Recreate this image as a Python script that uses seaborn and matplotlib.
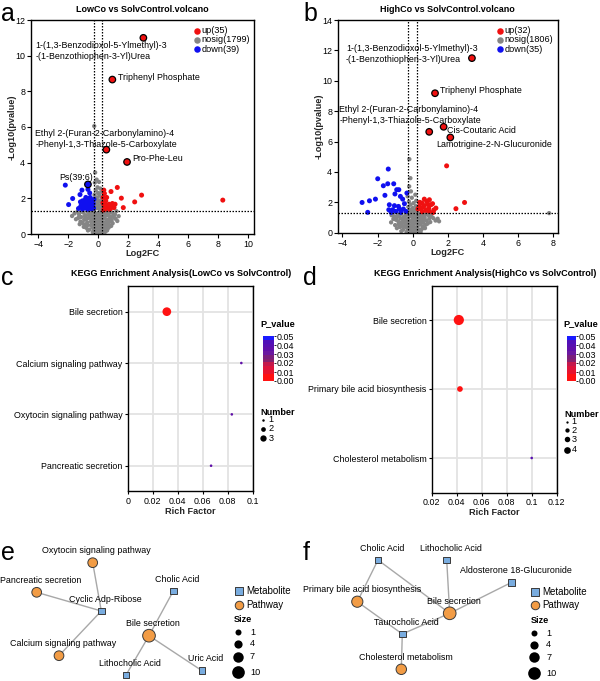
import numpy as np
import pandas as pd
import matplotlib
matplotlib.use("Agg")
import matplotlib.pyplot as plt
import matplotlib.colors as mcolors
from matplotlib.cm import ScalarMappable
import seaborn as sns

sns.set_style("ticks")
plt.rcParams['font.family'] = ['Liberation Sans', 'DejaVu Sans']
plt.rcParams['font.size'] = 6.4
plt.rcParams['text.color'] = 'black'
plt.rcParams['axes.edgecolor'] = 'black'
plt.rcParams['axes.linewidth'] = 1.0
plt.rcParams['xtick.color'] = 'black'
plt.rcParams['ytick.color'] = 'black'
plt.rcParams['xtick.major.size'] = 3
plt.rcParams['ytick.major.size'] = 3
plt.rcParams['xtick.major.width'] = 0.8
plt.rcParams['ytick.major.width'] = 0.8
plt.rcParams['xtick.major.pad'] = 1.2
plt.rcParams['ytick.major.pad'] = 1.2

# ---------------- volcano data ----------------
vol_groups = ["up", "nosig", "down"]
a_counts = [35, 1799, 39]
b_counts = [32, 1806, 35]

a_up_x = [1.26, 0.84, 0.36, 0.40, 2.88, 1.53, 2.42, 1.66, 8.30, 0.49, 0.71, 0.93, 1.11,
          0.38, 0.60, 0.82, 0.32, 0.55, 1.04, 0.44, 0.30, 0.65, 0.50, 0.35, 0.75, 1.00]
a_up_y = [2.61, 2.38, 2.46, 2.27, 2.18, 2.01, 1.80, 1.48, 1.90, 1.86, 1.67, 1.71, 1.67,
          1.58, 1.48, 1.45, 2.05, 2.05, 1.48, 1.39, 1.75, 1.55, 1.62, 1.35, 1.38, 1.62]
a_down_x = [-2.21, -1.99, -1.72, -1.23, -1.10, -0.70, -1.33, -1.06, -0.95, -0.79, -0.62,
            -0.50, -0.66, -0.40, -0.88, -1.17, -0.55, -0.84, -0.44, -0.33, -1.06, -0.73,
            -0.60, -0.90, -0.35, -1.00, -0.48, -0.75, -1.20, -0.30, -0.58]
a_down_y = [2.74, 1.65, 1.99, 2.21, 2.46, 2.50, 1.43, 1.86, 1.67, 1.76, 1.90,
            1.67, 1.48, 1.58, 1.48, 1.58, 2.05, 2.05, 1.86, 1.45, 1.39, 1.39,
            1.75, 1.90, 1.70, 1.55, 1.42, 1.62, 1.80, 1.95, 2.30]
a_grey_x = [-0.28, -0.22, -0.12, 0.04, -0.24, -0.06, 0.12, -0.18, 0.20, -0.02, -0.26, 0.08,
            -0.10, 0.22, -0.20, 0.02, 0.15, -0.08, -0.24, 0.24, 0.06, -0.14, 0.18, -0.02,
            -0.22, 0.10, -0.30, 0.26, -1.76, -1.50, -1.30, -1.15, -1.00, -0.95, -0.85, -0.75,
            -0.70, -0.65, -0.55, -0.50, -0.45, -0.40, -0.35, -0.30, -0.28, -0.25, -0.20, -0.15,
            -0.12, -0.10, -0.05, -0.02, 0.00, 0.03, 0.06, 0.10, 0.12, 0.15, 0.20, 0.22,
            0.25, 0.30, 0.35, 0.38, 0.42, 0.48, 0.52, 0.58, 0.62, 0.70, 0.75, 0.82,
            0.90, 0.95, 1.04, 1.10, 1.26, 1.35, -1.20, -0.90, -0.60, -0.38, -0.18, 0.05,
            0.28, 0.45, -0.65, -0.82, 0.68, 0.85, -1.05, -0.48, 0.55, -1.40, 1.20, -0.32,
            0.18, -0.08,
            -1.60, -1.35, -1.25, -1.10, -0.98, -0.92, -0.78, -0.72, -0.62, -0.52, -0.42, -0.36,
            -0.26, -0.22, -0.16, -0.06, 0.00, 0.08, 0.14, 0.18, 0.26, 0.32, 0.36, 0.44,
            0.50, 0.56, 0.64, 0.72, 0.78, 0.88, 1.00, 1.15, -0.45, -0.30, 0.40, -0.12,
            0.06, -0.50, 0.58, -0.70]
a_grey_y = [6.05, 3.45, 3.05, 2.92, 2.88, 2.62, 2.55, 2.45, 2.35, 2.30, 2.20, 2.15,
            2.05, 2.00, 1.92, 1.88, 1.80, 1.75, 1.68, 1.65, 1.60, 1.55, 1.50, 1.45,
            1.42, 1.38, 1.33, 1.35, 1.01, 0.83, 1.10, 0.95, 1.20, 0.80, 1.05, 0.65,
            1.25, 0.90, 1.12, 0.70, 0.45, 1.00, 0.82, 1.22, 0.55, 0.30, 0.95, 0.70,
            1.15, 0.40, 0.85, 0.15, 1.05, 0.60, 0.30, 0.90, 1.20, 0.50, 0.75, 0.20,
            1.00, 0.45, 1.18, 0.65, 0.88, 0.30, 1.05, 0.55, 0.80, 1.15, 0.70, 0.95,
            1.20, 0.60, 0.92, 1.10, 0.73, 1.00, 0.70, 0.50, 0.25, 0.10, 0.05, 0.08,
            0.10, 0.12, 1.20, 0.35, 0.35, 0.45, 0.62, 1.25, 1.25, 1.25, 1.28, 0.20,
            0.35, 0.25,
            1.15, 0.90, 0.55, 1.25, 0.40, 1.00, 0.85, 0.50, 1.05, 0.95, 0.65, 0.35,
            0.80, 0.48, 0.20, 0.55, 0.35, 0.75, 0.15, 1.05, 0.60, 0.88, 0.25, 1.10,
            0.48, 0.72, 1.05, 0.50, 0.90, 0.75, 1.05, 0.85, 0.85, 1.05, 0.40, 0.95,
            1.00, 0.50, 0.20, 0.20]
a_hit_names = ["1-(1,3-Benzodioxol-5-Ylmethyl)-3\n-(1-Benzothiophen-3-Yl)Urea",
               "Triphenyl Phosphate",
               "Ethyl 2-(Furan-2-Carbonylamino)-4\n-Phenyl-1,3-Thiazole-5-Carboxylate",
               "Pro-Phe-Leu", "Ps(39:6)"]
a_hit_x = [3.00, 0.93, 0.53, 1.91, -0.70]
a_hit_y = [11.00, 8.66, 4.73, 4.04, 2.78]
a_hit_group = ["up", "up", "up", "up", "down"]

b_up_x = [1.93, 2.95, 2.46, 0.66, 0.80, 0.95, 0.53, 0.37, 0.66, 0.91, 1.13, 1.32, 0.95,
          0.75, 0.47, 0.30, 1.04, 0.60, 1.17, 0.55, 0.85, 0.40, 1.20]
b_up_y = [4.40, 1.99, 1.58, 2.21, 2.06, 2.17, 1.95, 1.73, 1.78, 1.62, 1.91, 1.62, 1.40,
          1.47, 1.56, 1.56, 1.84, 1.69, 1.34, 1.38, 1.90, 2.00, 1.50]
b_down_x = [-1.39, -1.99, -1.67, -1.42, -1.08, -0.91, -0.79, -0.33, -1.58, -1.01, -0.70,
            -0.57, -2.12, -2.46, -2.88, -1.33, -1.04, -0.81, -0.47, -1.36, -0.96, -0.67,
            -1.14, -2.56, -0.53, -0.38, -0.76, -1.23]
b_down_y = [4.19, 3.55, 3.09, 3.22, 3.22, 2.83, 2.83, 2.61, 2.46, 2.55, 2.39,
            2.21, 2.21, 2.10, 1.99, 1.84, 1.78, 1.73, 1.91, 1.51, 1.40, 1.34,
            1.51, 1.34, 1.56, 1.40, 1.56, 1.34]
b_grey_x = [-0.19, -0.13, -0.20, -0.10, -0.29, 0.15, -0.05, 0.20, -0.22, 0.05, -0.12, 0.18,
            -0.25, 0.00, 0.22, -0.15, 0.10, -0.30, -0.05, 0.25, 7.76, -1.23, -1.04, -0.95,
            -0.85, -0.80, -0.70, -0.65, -0.60, -0.50, -0.45, -0.40, -0.35, -0.30, -0.25, -0.20,
            -0.15, -0.10, -0.05, 0.00, 0.02, 0.05, 0.08, 0.12, 0.15, 0.20, 0.25, 0.28,
            0.32, 0.38, 0.42, 0.48, 0.50, 0.55, 0.60, 0.68, 0.75, 0.80, 0.90, 1.00,
            1.17, 1.42, 1.10, -1.10, -0.90, -0.55, -0.35, -0.12, 0.10, 0.32, 0.60, -0.72,
            0.85, -1.15, -0.02, 0.40, -0.38, 0.22,
            -1.20, -1.00, -0.92, -0.82, -0.75, -0.60, -0.55, -0.48, -0.42, -0.32, -0.28, -0.22,
            -0.18, -0.08, -0.02, 0.04, 0.10, 0.14, 0.18, 0.24, 0.30, 0.36, 0.44, 0.52,
            0.56, 0.64, 0.70, 0.72, 0.85, 0.95, 1.05, 1.30, -0.65, 0.45, -0.40, 0.05,
            1.50, 0.35, -0.70, -0.15]
b_grey_y = [4.84, 3.59, 3.05, 2.72, 2.39, 2.50, 2.30, 2.10, 2.05, 1.95, 1.85, 1.75,
            1.70, 1.62, 1.55, 1.50, 1.45, 1.40, 1.38, 1.34, 1.29, 0.68, 1.07, 0.85,
            1.20, 0.55, 0.95, 1.25, 0.70, 1.05, 0.40, 0.85, 1.20, 0.60, 0.95, 0.25,
            0.75, 1.10, 0.45, 0.90, 0.10, 1.22, 0.60, 0.30, 0.95, 0.70, 1.15, 0.40,
            0.85, 1.05, 0.55, 0.20, 0.90, 1.20, 0.65, 1.00, 0.53, 0.80, 1.15, 0.70,
            0.96, 0.92, 1.25, 0.90, 0.30, 0.20, 0.05, 0.08, 0.05, 0.12, 0.30, 0.38,
            1.28, 1.25, 0.65, 1.25, 0.60, 0.15,
            1.15, 0.50, 1.00, 0.75, 1.10, 0.45, 0.90, 0.65, 1.10, 0.30, 0.80, 0.55,
            1.20, 0.25, 0.80, 0.45, 1.05, 0.70, 0.35, 0.90, 0.60, 0.20, 0.75, 1.05,
            0.40, 0.85, 0.30, 1.20, 0.60, 0.95, 1.10, 0.80, 0.10, 0.05, 0.45, 0.20,
            0.75, 1.15, 0.65, 0.45]
b_hit_names = ["1-(1,3-Benzodioxol-5-Ylmethyl)-3\n-(1-Benzothiophen-3-Yl)Urea",
               "Triphenyl Phosphate",
               "Ethyl 2-(Furan-2-Carbonylamino)-4\n-Phenyl-1,3-Thiazole-5-Carboxylate",
               "Cis-Coutaric Acid", "Lamotrigine-2-N-Glucuronide"]
b_hit_x = [3.37, 1.27, 0.94, 1.76, 2.14]
b_hit_y = [11.49, 9.18, 6.64, 6.97, 6.27]
b_hit_group = ["up", "up", "up", "up", "up"]

fc_cut = 0.263
p_cut = 1.301

# ---------------- KEGG enrichment data ----------------
c_paths = ["Bile secretion", "Calcium signaling pathway", "Oxytocin signaling pathway",
           "Pancreatic secretion"]
c_rich = [0.0313, 0.0909, 0.0833, 0.0667]
c_pval = [0.003, 0.036, 0.035, 0.036]
c_num = [3, 1, 1, 1]

d_paths = ["Bile secretion", "Primary bile acid biosynthesis", "Cholesterol metabolism"]
d_rich = [0.0417, 0.0426, 0.1000]
d_pval = [0.002, 0.004, 0.038]
d_num = [4, 2, 1]

# ---------------- network data ----------------
e_nodes = ["Oxytocin signaling pathway", "Pancreatic secretion", "Calcium signaling pathway",
           "Bile secretion", "Cyclic Adp-Ribose", "Cholic Acid", "Lithocholic Acid", "Uric Acid"]
e_types = ["Pathway", "Pathway", "Pathway", "Pathway",
           "Metabolite", "Metabolite", "Metabolite", "Metabolite"]
e_sizes = [6, 6, 6, 10, 0, 0, 0, 0]
e_x = [92.7, 36.7, 59.0, 149.0, 101.3, 173.3, 126.0, 202.0]
e_y = [562.7, 592.3, 655.7, 635.7, 611.0, 591.0, 675.0, 670.7]
e_edges = [("Cyclic Adp-Ribose", "Oxytocin signaling pathway"),
           ("Cyclic Adp-Ribose", "Pancreatic secretion"),
           ("Cyclic Adp-Ribose", "Calcium signaling pathway"),
           ("Cholic Acid", "Bile secretion"),
           ("Lithocholic Acid", "Bile secretion"),
           ("Uric Acid", "Bile secretion")]

f_nodes = ["Primary bile acid biosynthesis", "Bile secretion", "Cholesterol metabolism",
           "Cholic Acid", "Lithocholic Acid", "Aldosterone 18-Glucuronide", "Taurocholic Acid"]
f_types = ["Pathway", "Pathway", "Pathway", "Metabolite", "Metabolite", "Metabolite", "Metabolite"]
f_sizes = [8, 10, 7, 0, 0, 0, 0]
f_x = [357.3, 449.7, 401.3, 378.0, 446.7, 511.7, 402.3]
f_y = [601.7, 613.3, 669.3, 560.0, 560.0, 582.3, 634.0]
f_edges = [("Cholic Acid", "Primary bile acid biosynthesis"),
           ("Cholic Acid", "Bile secretion"),
           ("Lithocholic Acid", "Bile secretion"),
           ("Aldosterone 18-Glucuronide", "Bile secretion"),
           ("Taurocholic Acid", "Primary bile acid biosynthesis"),
           ("Taurocholic Acid", "Bile secretion"),
           ("Taurocholic Acid", "Cholesterol metabolism")]
size_legend = [1, 4, 7, 10]

# ---------------- styling ----------------
W, H = 600, 681
vol_palette = {"up": "#f01010", "nosig": "#858585", "down": "#1010f0"}
p_cmap = mcolors.ListedColormap(['#ff1212', '#ff1212', '#e8142e', '#dc143c', '#c4184c',
                                 '#86206e', '#7a1f7c', '#6a18a0', '#6010a8', '#5810b0',
                                 '#5010b8', '#1a1aff'])
node_palette = {"Metabolite": "#79acdf", "Pathway": "#f29c45"}
node_markers = {"Metabolite": "s", "Pathway": "o"}


def area(diam_px):
    # scatter size (pt^2) for a marker of given pixel diameter at 100 dpi
    return (diam_px / 1.389) ** 2


def rect(l, t, r, b):
    return [l / W, 1 - b / H, (r - l) / W, (b - t) / H]


def volcano(ax, up_x, up_y, down_x, down_y, grey_x, grey_y,
            hit_x, hit_y, hit_group, hit_names, label_xy, title, xlim, ylim, xticks, yticks):
    df = pd.DataFrame({
        "Log2FC": grey_x + up_x + down_x,
        "logp": grey_y + up_y + down_y,
        "group": ["nosig"] * len(grey_x) + ["up"] * len(up_x) + ["down"] * len(down_x),
    })
    sns.scatterplot(data=df, x="Log2FC", y="logp", hue="group", palette=vol_palette,
                    size="group", sizes={"nosig": area(4.3), "up": area(5.0), "down": area(5.0)},
                    linewidth=0, legend=False, ax=ax, zorder=2)
    hits = pd.DataFrame({"Log2FC": hit_x, "logp": hit_y, "group": hit_group})
    sns.scatterplot(data=hits, x="Log2FC", y="logp", hue="group", palette=vol_palette,
                    s=area(6.5), edgecolor="black", linewidth=0.9, legend=False, ax=ax, zorder=4)
    for name, (tx, ty) in zip(hit_names, label_xy):
        ax.text(tx, ty, name, ha="left", va="center", fontsize=6.4, linespacing=1.25, zorder=5)
    for xv in (-fc_cut, fc_cut):
        ax.axvline(xv, color="black", lw=0.9, ls=(0, (1.2, 1.2)), zorder=3)
    ax.axhline(p_cut, color="black", lw=0.9, ls=(0, (1.2, 1.2)), zorder=3)
    ax.set_xlim(*xlim)
    ax.set_ylim(*ylim)
    ax.set_xticks(xticks)
    ax.set_yticks(yticks)
    ax.set_xlabel("Log2FC", fontweight="bold", fontsize=6.6, labelpad=0)
    ax.set_ylabel("-Log10(pvalue)", fontweight="bold", fontsize=6.6, labelpad=-1)
    ax.set_title(title, fontweight="bold", fontsize=6.5, pad=6)
    ax.tick_params(labelsize=6.4)


def kegg(ax, cax, paths, rich, pvals, nums, xlim, xticks, xticklabels):
    df = pd.DataFrame({"Pathway": paths, "Rich Factor": rich, "P_value": pvals, "Number": nums})
    sns.scatterplot(data=df, x="Rich Factor", y="Pathway", hue="P_value", palette=p_cmap,
                    hue_norm=(0, 0.05), size="Number",
                    sizes={1: area(2.6), 2: area(5.7), 3: area(8.7), 4: area(10.2)},
                    linewidth=0, legend=False, ax=ax, zorder=3)
    ax.set_xlim(*xlim)
    ax.set_ylim(len(paths) - 0.5, -0.5)
    ax.set_xticks(xticks)
    ax.set_xticklabels(xticklabels)
    ax.grid(True, color="#e3e3e3", lw=1.3)
    ax.set_axisbelow(True)
    ax.set_ylabel("")
    ax.set_xlabel("Rich Factor", fontweight="bold", fontsize=6.6, labelpad=1)
    ax.tick_params(length=2.5, labelsize=6.4)
    cb = fig.colorbar(ScalarMappable(norm=mcolors.Normalize(0, 0.05), cmap=p_cmap), cax=cax,
                      ticks=[0, 0.01, 0.02, 0.03, 0.04, 0.05])
    cb.outline.set_visible(False)
    cb.ax.set_yticklabels(["0.00", "0.01", "0.02", "0.03", "0.04", "0.05"])
    cb.ax.tick_params(length=1.5, width=0.6, pad=0.5, labelsize=6.4)


def network(ax, nodes, types, sizes, xs, ys, edges, dx, dy):
    pos = dict(zip(nodes, zip(xs, ys)))
    for n1, n2 in edges:
        ax.plot([pos[n1][0], pos[n2][0]], [pos[n1][1], pos[n2][1]],
                color="#a8a8a8", lw=1.0, zorder=1)
    df = pd.DataFrame({"name": nodes, "type": types, "size": sizes, "x": xs, "y": ys})
    lookup = {v: area(5.26 + 0.74 * v) for v in set(sizes) if v > 0}
    lookup[0] = area(6.5)
    sns.scatterplot(data=df, x="x", y="y", hue="type", style="type", size="size",
                    palette=node_palette, markers=node_markers, sizes=lookup,
                    edgecolor="#3a3a3a", linewidth=0.7, legend=False, ax=ax, zorder=3)
    for n, x, y in zip(nodes, xs, ys):
        ax.text(x + dx, y + dy, n, ha="center", va="center", fontsize=6.4, zorder=4)


fig = plt.figure(figsize=(W / 100, H / 100), dpi=100)

ax_a = fig.add_axes(rect(31, 20, 253.5, 234))
ax_b = fig.add_axes(rect(338, 20, 557.7, 232.7))
ax_c = fig.add_axes(rect(127.7, 286, 252.7, 491.4))
ax_d = fig.add_axes(rect(431.7, 285.5, 556.7, 492.5))
cax_c = fig.add_axes(rect(263, 336, 274, 381))
cax_d = fig.add_axes(rect(567, 336, 575.5, 381))

volcano(ax_a, a_up_x, a_up_y, a_down_x, a_down_y, a_grey_x, a_grey_y,
        a_hit_x, a_hit_y, a_hit_group, a_hit_names,
        [(-4.2, 10.28), (1.31, 8.75), (-4.2, 5.31), (2.26, 4.21), (-2.61, 3.17)],
        "LowCo vs SolvControl.volcano", (-4.5, 10.35), (0, 12),
        range(-4, 11, 2), range(0, 13, 2))
volcano(ax_b, b_up_x, b_up_y, b_down_x, b_down_y, b_grey_x, b_grey_y,
        b_hit_x, b_hit_y, b_hit_group, b_hit_names,
        [(-3.79, 11.74), (1.57, 9.36), (-4.17, 7.74), (1.98, 6.73), (1.32, 5.81)],
        "HighCo vs SolvControl.volcano", (-4.25, 8.25), (0, 14),
        range(-4, 9, 2), range(0, 15, 2))

kegg(ax_c, cax_c, c_paths, c_rich, c_pval, c_num, (0, 0.1),
     [0, 0.02, 0.04, 0.06, 0.08, 0.1], ["0", "0.02", "0.04", "0.06", "0.08", "0.1"])
kegg(ax_d, cax_d, d_paths, d_rich, d_pval, d_num, (0.02, 0.12),
     [0.02, 0.04, 0.06, 0.08, 0.1, 0.12], ["0.02", "0.04", "0.06", "0.08", "0.1", "0.12"])

# overlay in pixel coordinates for networks, legends and panel letters
ov = fig.add_axes([0, 0, 1, 1])
ov.set_zorder(10)
ov.patch.set_alpha(0)

network(ov, e_nodes, e_types, e_sizes, e_x, e_y, e_edges, 4.0, -12.0)
network(ov, f_nodes, f_types, f_sizes, f_x, f_y, f_edges, 4.5, -11.7)

# volcano legends
for lx, counts in ((196.7, a_counts), (500.0, b_counts)):
    for yy, g, c in zip((30.7, 40.0, 49.3), vol_groups, counts):
        ov.scatter(lx, yy, s=area(6.5), color=vol_palette[g], linewidth=0)
        ov.text(lx + 4.5, yy, f"{g}({c})", ha="left", va="center", fontsize=6.6)

# KEGG titles and legends
ov.text(181, 274, "KEGG Enrichment Analysis(LowCo vs SolvControl)", ha="center",
        va="center", fontsize=6.5, fontweight="bold")
ov.text(485, 274, "KEGG Enrichment Analysis(HighCo vs SolvControl)", ha="center",
        va="center", fontsize=6.5, fontweight="bold")
for px, ys_leg, labels, diams in (
        (263.3, (420, 428.7, 438.3), ["1", "2", "3"], [2.5, 4.7, 6.3]),
        (566.7, (421.7, 430.3, 439.3, 450), ["1", "2", "3", "4"], [2.3, 4.3, 5.5, 6.7])):
    ov.text(px + 14, 323.3, "P_value", ha="center", va="center", fontsize=6.6, fontweight="bold")
    ov.text(px - 2.5, ys_leg[0] - 7.5, "Number", ha="left", va="center", fontsize=6.6,
            fontweight="bold")
    for yy, lab, dm in zip(ys_leg, labels, diams):
        ov.scatter(px, yy, s=area(dm), color="black", linewidth=0)
        ov.text(px + 5, yy, lab, ha="left", va="center", fontsize=6.6)

# network legends
for mx, yy0 in ((239.0, 591.0), (535.3, 591.7)):
    ov.scatter(mx, yy0, s=area(7.5), marker="s", color=node_palette["Metabolite"],
               edgecolor="#3a3a3a", linewidth=0.7)
    ov.text(mx + 7, yy0, "Metabolite", ha="left", va="center", fontsize=7)
    ov.scatter(mx, yy0 + 13.7, s=area(8.5), marker="o", color=node_palette["Pathway"],
               edgecolor="#3a3a3a", linewidth=0.7)
    ov.text(mx + 7, yy0 + 13.7, "Pathway", ha="left", va="center", fontsize=7)
    ov.text(mx - 5, yy0 + 28.5, "Size", ha="left", va="center", fontsize=6.6, fontweight="bold")
    for k, v in enumerate(size_legend):
        yy = yy0 + 41.3 + [0, 11.7, 24.4, 40.0][k]
        ov.scatter(mx - 1, yy, s=area(5.26 + 0.74 * v), color="black", linewidth=0)
        ov.text(mx + 11, yy, str(v), ha="left", va="center", fontsize=6.6)

# panel letters
for lx, ly, letter in ((1, 21, "a"), (303, 21, "b"), (1, 285, "c"), (303, 285, "d"),
                       (1, 560, "e"), (303, 560, "f")):
    ov.text(lx, ly, letter, ha="left", va="baseline", fontsize=18)

ov.set_xlim(0, W)
ov.set_ylim(H, 0)
ov.axis("off")

fig.savefig("out.png", dpi=100)
plt.close(fig)
